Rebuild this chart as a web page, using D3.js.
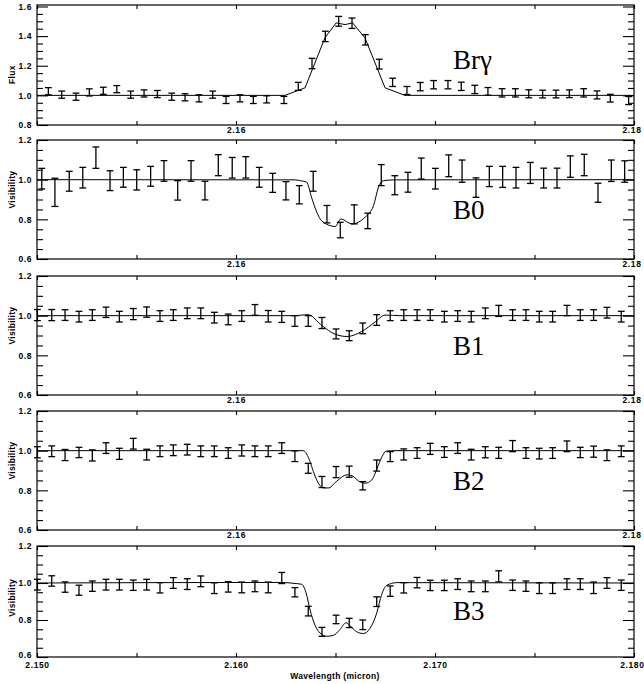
<!DOCTYPE html>
<html lang="en">
<head>
    <meta charset="UTF-8">
    <title>Br gamma flux and visibilities</title>
    <style>
        body { margin: 0; background: #fff; }
        svg { display: block; }
        .tick text { font-family: "Liberation Sans", Arial, sans-serif; font-weight: bold; font-size: 8.5px; letter-spacing: 0.6px; fill: #000; }
        .ytitle { font-family: "Liberation Sans", Arial, sans-serif; font-weight: bold; font-size: 8.5px; letter-spacing: 0.3px; }
        .pname { font-family: "Liberation Serif", "Times New Roman", serif; font-size: 27px; }
    </style>
</head>
<body>
    <div id="graph"></div>
    <script src="https://d3js.org/d3.v7.min.js"></script>
    <script>
        // --- data ---

        // Br gamma flux
        var fluxWave = [2.15057, 2.15124, 2.15196, 2.15263, 2.15333, 2.15401, 2.15471, 2.15538, 2.15605, 2.15677,
                        2.15744, 2.15814, 2.15883, 2.15950, 2.16020, 2.16087, 2.16154, 2.16241, 2.16313, 2.16382,
                        2.16449, 2.16516, 2.16583, 2.16650, 2.16720, 2.16787, 2.16859, 2.16926, 2.16993, 2.17065,
                        2.17132, 2.17200, 2.17266, 2.17337, 2.17404, 2.17471, 2.17541, 2.17608, 2.17675, 2.17747,
                        2.17814, 2.17881, 2.17973];
        var fluxVal = [1.028, 1.005, 0.991, 1.020, 1.031, 1.042, 1.005, 1.013, 1.009, 0.991,
                       0.987, 0.980, 1.005, 0.969, 0.980, 0.969, 0.973, 0.969, 1.061, 1.215,
                       1.398, 1.500, 1.487, 1.375, 1.211, 1.088, 1.033, 1.059, 1.072, 1.072,
                       1.061, 1.040, 1.027, 1.017, 1.017, 1.011, 1.009, 1.009, 1.011, 1.017,
                       1.003, 0.981, 0.965];
        var fluxErr = [0.024, 0.024, 0.024, 0.024, 0.024, 0.024, 0.024, 0.024, 0.024, 0.024,
                       0.024, 0.024, 0.024, 0.024, 0.024, 0.024, 0.024, 0.024, 0.027, 0.035,
                       0.035, 0.033, 0.035, 0.035, 0.033, 0.028, 0.027, 0.028, 0.028, 0.028,
                       0.028, 0.028, 0.026, 0.028, 0.028, 0.027, 0.026, 0.026, 0.026, 0.028,
                       0.027, 0.026, 0.027];
        var fluxModelWave = [2.15000, 2.16246, 2.16347, 2.16447, 2.16503, 2.16548, 2.16586, 2.16648, 2.16749, 2.16849, 2.18000];
        var fluxModelVal  = [1.000,   1.000,   1.051,   1.389,   1.489,   1.478,   1.489,   1.389,   1.051,   1.000,   1.000];

        // baseline B0
        var b0Wave = [2.15024, 2.15090, 2.15162, 2.15230, 2.15296, 2.15367, 2.15434, 2.15501, 2.15571, 2.15638,
                      2.15707, 2.15774, 2.15844, 2.15911, 2.15981, 2.16049, 2.16117, 2.16184, 2.16251, 2.16318,
                      2.16388, 2.16457, 2.16524, 2.16594, 2.16662, 2.16730, 2.16798, 2.16864, 2.16931, 2.17002,
                      2.17069, 2.17136, 2.17206, 2.17273, 2.17340, 2.17407, 2.17479, 2.17546, 2.17613, 2.17680,
                      2.17750, 2.17819, 2.17886, 2.17953];
        var b0Val = [1.005, 0.936, 0.992, 1.010, 1.111, 0.995, 1.012, 0.999, 1.017, 1.044,
                     0.946, 1.044, 0.945, 1.073, 1.060, 1.062, 1.012, 0.984, 0.944, 0.924,
                     0.992, 0.826, 0.746, 0.825, 0.792, 1.023, 0.972, 0.987, 1.056, 1.005,
                     1.070, 1.043, 0.960, 1.016, 1.014, 1.010, 1.034, 1.008, 1.008, 1.066,
                     1.074, 0.934, 1.045, 1.041];
        var b0Err = [0.052, 0.071, 0.050, 0.052, 0.054, 0.050, 0.050, 0.051, 0.050, 0.052,
                     0.049, 0.052, 0.047, 0.053, 0.052, 0.054, 0.050, 0.048, 0.046, 0.046,
                     0.050, 0.044, 0.039, 0.048, 0.039, 0.053, 0.048, 0.050, 0.053, 0.052,
                     0.055, 0.056, 0.049, 0.051, 0.053, 0.052, 0.053, 0.050, 0.050, 0.054,
                     0.054, 0.048, 0.054, 0.054];
        var b0ModelWave = [2.15000, 2.16296, 2.16322, 2.16355, 2.16380, 2.16406, 2.16432, 2.16499, 2.16527,
                           2.16582, 2.16649, 2.16691, 2.16716, 2.16741, 2.16799, 2.18000];
        var b0ModelVal  = [1.000,   0.999,   0.995,   0.987,   0.910,   0.836,   0.791,   0.764,   0.802,
                           0.777,   0.811,   0.869,   0.962,   0.995,   0.999,   1.000];

        // baselines B1, B2, B3 share one wavelength grid
        var visWave = [2.15002, 2.15074, 2.15141, 2.15211, 2.15278, 2.15347, 2.15414, 2.15484, 2.15551, 2.15618,
                       2.15685, 2.15755, 2.15823, 2.15891, 2.15961, 2.16029, 2.16095, 2.16162, 2.16230, 2.16296,
                       2.16363, 2.16432, 2.16503, 2.16569, 2.16637, 2.16707, 2.16775, 2.16843, 2.16910, 2.16976,
                       2.17047, 2.17114, 2.17182, 2.17253, 2.17320, 2.17390, 2.17457, 2.17524, 2.17591, 2.17663,
                       2.17730, 2.17797, 2.17864, 2.17936];

        var b1Val = [1.003, 1.003, 1.003, 0.995, 1.003, 1.017, 0.995, 1.008, 1.018, 0.998,
                     1.003, 1.012, 1.012, 0.990, 0.981, 0.998, 1.029, 0.997, 0.994, 0.973,
                     0.973, 0.963, 0.908, 0.899, 0.936, 0.978, 1.000, 1.003, 1.003, 1.003,
                     0.995, 0.998, 0.995, 1.012, 1.024, 1.003, 1.003, 0.995, 0.995, 1.026,
                     1.003, 1.003, 1.015, 0.995];
        var b1Err = [0.028, 0.028, 0.027, 0.027, 0.027, 0.026, 0.027, 0.028, 0.026, 0.027,
                     0.027, 0.027, 0.027, 0.027, 0.027, 0.027, 0.027, 0.029, 0.028, 0.027,
                     0.027, 0.028, 0.025, 0.025, 0.027, 0.027, 0.025, 0.027, 0.027, 0.027,
                     0.027, 0.027, 0.027, 0.027, 0.028, 0.027, 0.027, 0.027, 0.027, 0.026,
                     0.027, 0.027, 0.027, 0.027];
        var b1ModelWave = [2.15000, 2.16296, 2.16362, 2.16432, 2.16497, 2.16558, 2.16633, 2.16699, 2.16749, 2.16824, 2.18000];
        var b1ModelVal  = [1.000,   1.000,   1.005,   0.950,   0.907,   0.895,   0.921,   0.968,   1.003,   1.000,   1.000];

        var b2Val = [0.992, 0.997, 0.978, 0.991, 0.976, 1.013, 0.984, 1.035, 0.980, 0.997,
                     1.002, 1.005, 0.997, 0.997, 0.988, 1.001, 0.997, 0.997, 1.013, 0.972,
                     0.911, 0.842, 0.892, 0.894, 0.823, 0.925, 0.970, 0.981, 0.988, 1.009,
                     0.993, 1.013, 0.980, 0.992, 0.989, 1.023, 0.988, 0.985, 0.988, 1.022,
                     0.991, 0.995, 0.977, 0.997];
        var b2Err = [0.028, 0.027, 0.028, 0.026, 0.028, 0.027, 0.028, 0.027, 0.027, 0.027,
                     0.027, 0.027, 0.027, 0.027, 0.027, 0.028, 0.027, 0.027, 0.027, 0.027,
                     0.025, 0.028, 0.028, 0.028, 0.021, 0.028, 0.025, 0.028, 0.027, 0.028,
                     0.027, 0.027, 0.027, 0.028, 0.028, 0.028, 0.027, 0.027, 0.027, 0.027,
                     0.026, 0.028, 0.027, 0.027];
        var b2ModelWave = [2.15000, 2.16338, 2.16372, 2.16389, 2.16414, 2.16442, 2.16467, 2.16499, 2.16558,
                           2.16583, 2.16616, 2.16650, 2.16683, 2.16709, 2.16734, 2.16754, 2.16799, 2.18000];
        var b2ModelVal  = [1.000,   1.000,   0.945,   0.894,   0.836,   0.812,   0.812,   0.840,   0.878,
                           0.874,   0.847,   0.836,   0.853,   0.911,   0.970,   0.998,   1.000,   1.000];

        var b3Val = [0.991, 1.011, 0.978, 0.961, 0.983, 0.991, 0.991, 0.988, 0.991, 0.974,
                     1.000, 0.994, 1.009, 0.972, 0.979, 0.976, 0.982, 0.976, 1.027, 0.950,
                     0.848, 0.736, 0.803, 0.784, 0.774, 0.899, 0.956, 0.974, 1.002, 0.987,
                     0.987, 0.994, 0.982, 0.982, 1.036, 0.988, 0.983, 0.972, 0.972, 0.994,
                     0.994, 0.974, 1.000, 0.988];
        var b3Err = [0.029, 0.028, 0.028, 0.027, 0.028, 0.029, 0.029, 0.028, 0.029, 0.028,
                     0.029, 0.029, 0.029, 0.029, 0.028, 0.029, 0.029, 0.029, 0.030, 0.025,
                     0.026, 0.024, 0.023, 0.025, 0.026, 0.026, 0.028, 0.028, 0.028, 0.028,
                     0.028, 0.029, 0.029, 0.029, 0.030, 0.028, 0.028, 0.029, 0.029, 0.029,
                     0.029, 0.031, 0.029, 0.028];
        var b3ModelWave = [2.15000, 2.16221, 2.16302, 2.16330, 2.16352, 2.16372, 2.16397, 2.16422, 2.16456,
                           2.16489, 2.16523, 2.16553, 2.16581, 2.16607, 2.16640, 2.16673, 2.16707, 2.16732,
                           2.16757, 2.16808, 2.18000];
        var b3ModelVal  = [1.000,   1.003,   0.997,   0.993,   0.947,   0.855,   0.772,   0.730,   0.712,
                           0.717,   0.749,   0.785,   0.760,   0.736,   0.727,   0.754,   0.837,   0.938,
                           0.987,   1.002,   1.000];

        var panelNames = ["Br\u03b3", "B0", "B1", "B2", "B3"];
        var yTitles = ["Flux", "Visibility", "Visibility", "Visibility", "Visibility"];
        var fluxTicks = [0.8, 1.0, 1.2, 1.4, 1.6];
        var visTicks = [0.6, 0.8, 1.0, 1.2];
        var xLabelsTop = [2.16, 2.18];
        var xLabelsBottom = [2.15, 2.16, 2.17, 2.18];
        var xTitle = "Wavelength (micron)";

        // --- layout ---
        var W = 644, H = 684;
        var svg = d3.select("#graph").append("svg")
                    .attr("width", W)
                    .attr("height", H);

        var x = d3.scaleLinear().domain([2.15, 2.18]).range([37, 634]);

        var panels = [
            { top: 5,   bottom: 125, dom: [0.8, 1.61], ticks: fluxTicks, wave: fluxWave, val: fluxVal, err: fluxErr,
              mWave: fluxModelWave, mVal: fluxModelVal, curve: d3.curveLinear, nameAt: 1.18, titleAt: 1.14 },
            { top: 140, bottom: 259, dom: [0.6, 1.2], ticks: visTicks, wave: b0Wave, val: b0Val, err: b0Err,
              mWave: b0ModelWave, mVal: b0ModelVal, curve: d3.curveMonotoneX, nameAt: 0.8, titleAt: 0.95 },
            { top: 276, bottom: 395, dom: [0.6, 1.2], ticks: visTicks, wave: visWave, val: b1Val, err: b1Err,
              mWave: b1ModelWave, mVal: b1ModelVal, curve: d3.curveMonotoneX, nameAt: 0.8, titleAt: 0.95 },
            { top: 411, bottom: 530, dom: [0.6, 1.2], ticks: visTicks, wave: visWave, val: b2Val, err: b2Err,
              mWave: b2ModelWave, mVal: b2ModelVal, curve: d3.curveMonotoneX, nameAt: 0.8, titleAt: 0.95 },
            { top: 546, bottom: 657, dom: [0.6, 1.2], ticks: visTicks, wave: visWave, val: b3Val, err: b3Err,
              mWave: b3ModelWave, mVal: b3ModelVal, curve: d3.curveMonotoneX, nameAt: 0.8, titleAt: 0.92 }
        ];

        var nameWave = 2.1709;  // where the panel names sit
        var capHalf = 3.4;

        panels.forEach(function(p, i) {
            var y = d3.scaleLinear().domain(p.dom).range([p.bottom, p.top]);
            var g = svg.append("g");
            var left = x.range()[0], right = x.range()[1];
            var last = (i === panels.length - 1);

            // minor y ticks every 0.05
            var minor = d3.range(p.dom[0], p.dom[1] + 1e-6, 0.05).map(function(v) { return +v.toFixed(2); });
            minor = minor.filter(function(v) { return p.ticks.indexOf(v) < 0; });

            g.append("g").attr("transform", "translate(" + left + ",0)")
                .call(d3.axisLeft(y).tickValues(minor).tickSize(-6).tickFormat(""));
            g.append("g").attr("transform", "translate(" + right + ",0)")
                .call(d3.axisRight(y).tickValues(minor).tickSize(-6).tickFormat(""));
            var yl = g.append("g").attr("transform", "translate(" + left + ",0)")
                .call(d3.axisLeft(y).tickValues(p.ticks).tickSize(-11).tickPadding(5).tickFormat(d3.format(".1f")));
            if (last) {
                // keep the lowest label clear of the first wavelength label
                yl.selectAll(".tick text").filter(function(d) { return d === p.dom[0]; }).attr("dy", "0.1em");
            }
            g.append("g").attr("transform", "translate(" + right + ",0)")
                .call(d3.axisRight(y).tickValues(p.ticks).tickSize(-11).tickFormat(""));

            // x ticks, labels only where the original shows them
            g.append("g").attr("transform", "translate(0," + p.top + ")")
                .call(d3.axisTop(x).ticks(6).tickSize(-4).tickFormat(""));
            g.append("g").attr("transform", "translate(0," + p.bottom + ")")
                .call(d3.axisBottom(x).ticks(6).tickSize(-4).tickFormat(""));
            var xl = g.append("g").attr("transform", "translate(0," + p.bottom + ")")
                .call(d3.axisBottom(x)
                    .tickValues(last ? xLabelsBottom : xLabelsTop)
                    .tickSize(0).tickPadding(last ? 5 : 2)
                    .tickFormat(d3.format(last ? ".3f" : ".2f")));
            xl.selectAll(".tick text").filter(function(d) { return d === 2.18; })
                .attr("text-anchor", "end").attr("dx", last ? 10 : 7);

            g.selectAll(".domain").remove();
            g.selectAll(".tick line").attr("stroke", "#000").attr("stroke-width", 1.1);
            g.selectAll(".tick text").attr("fill", "#000");

            // frame
            g.append("rect")
                .attr("x", left).attr("y", p.top)
                .attr("width", right - left).attr("height", p.bottom - p.top)
                .attr("fill", "none").attr("stroke", "#000").attr("stroke-width", 1.2);

            // model curve
            var pts = p.mWave.map(function(w, k) { return [w, p.mVal[k]]; });
            g.append("path")
                .datum(pts)
                .attr("fill", "none")
                .attr("stroke", "#000")
                .attr("stroke-width", 1)
                .attr("d", d3.line()
                    .curve(p.curve)
                    .x(function(d) { return x(d[0]); })
                    .y(function(d) { return y(d[1]); }));

            // error bars
            var data = p.wave.map(function(w, k) { return { w: w, v: p.val[k], e: p.err[k] }; });
            var bars = g.append("g").attr("stroke", "#000").attr("stroke-width", 1.3);
            bars.selectAll("line.v").data(data).enter().append("line")
                .attr("class", "v")
                .attr("x1", function(d) { return x(d.w); })
                .attr("x2", function(d) { return x(d.w); })
                .attr("y1", function(d) { return y(d.v - d.e); })
                .attr("y2", function(d) { return y(d.v + d.e); });
            bars.selectAll("line.lo").data(data).enter().append("line")
                .attr("class", "lo")
                .attr("x1", function(d) { return x(d.w) - capHalf; })
                .attr("x2", function(d) { return x(d.w) + capHalf; })
                .attr("y1", function(d) { return y(d.v - d.e); })
                .attr("y2", function(d) { return y(d.v - d.e); });
            bars.selectAll("line.hi").data(data).enter().append("line")
                .attr("class", "hi")
                .attr("x1", function(d) { return x(d.w) - capHalf; })
                .attr("x2", function(d) { return x(d.w) + capHalf; })
                .attr("y1", function(d) { return y(d.v + d.e); })
                .attr("y2", function(d) { return y(d.v + d.e); });

            // panel name
            g.append("text")
                .attr("class", "pname")
                .attr("x", x(nameWave))
                .attr("y", y(p.nameAt))
                .text(panelNames[i]);

            // y title
            g.append("text")
                .attr("class", "ytitle")
                .attr("text-anchor", "middle")
                .attr("transform", "translate(15," + y(p.titleAt) + ") rotate(-90)")
                .text(yTitles[i]);
        });

        // x title
        svg.append("text")
            .attr("class", "ytitle")
            .attr("text-anchor", "middle")
            .attr("x", 335)
            .attr("y", 679)
            .text(xTitle);
    </script>
</body>
</html>
